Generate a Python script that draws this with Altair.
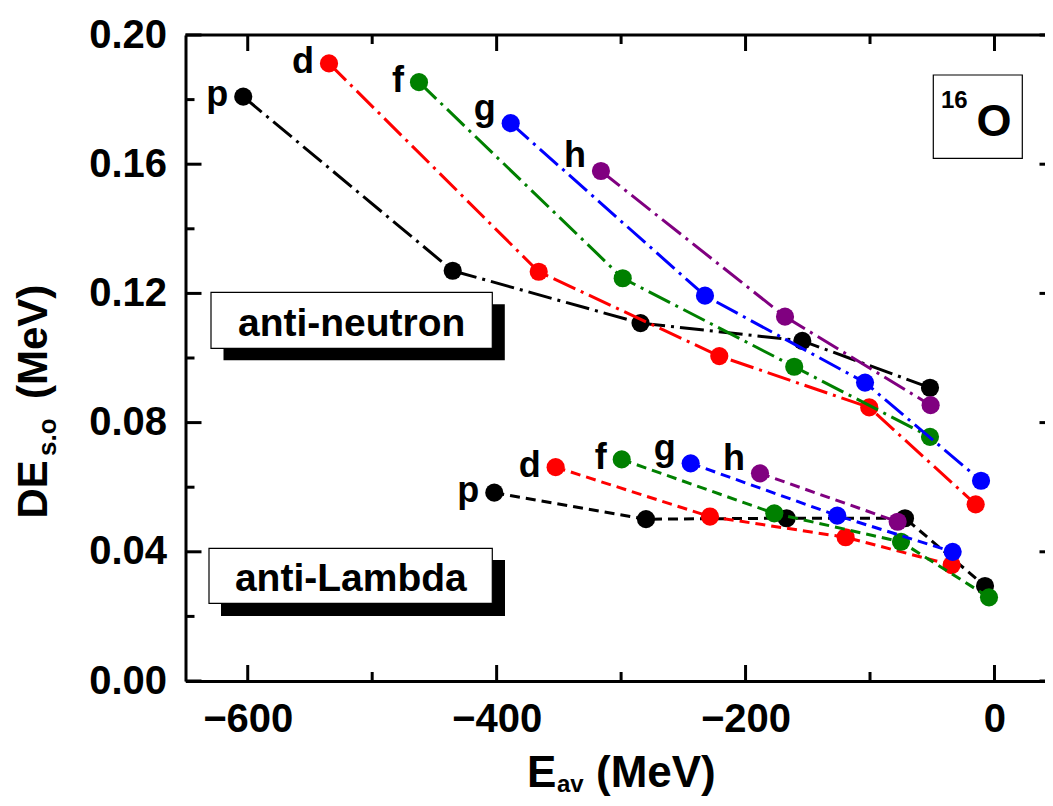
import altair as alt
import pandas as pd

# ---------------- data ----------------
ORBITALS = ["p", "d", "f", "g", "h"]
ORBITAL_COLORS = ["#000000", "#ff0000", "#008000", "#0000ff", "#800080"]

# anti-neutron : E_av (MeV) and DE_s.o (MeV)
NEUTRON_E = {
    "p": [-603.6, -435.3, -284.4, -154.4, -51.8],
    "d": [-534.7, -366.2, -221.1, -100.6, -15.1],
    "f": [-462.4, -298.7, -160.9, -51.8],
    "g": [-388.7, -232.6, -104.0, -10.8],
    "h": [-316.2, -168.3, -51.3],
}
NEUTRON_DE = {
    "p": [0.1809, 0.1270, 0.1108, 0.1053, 0.0908],
    "d": [0.1912, 0.1267, 0.1006, 0.0847, 0.0547],
    "f": [0.1854, 0.1247, 0.0973, 0.0756],
    "g": [0.1727, 0.1193, 0.0924, 0.0620],
    "h": [0.1579, 0.1128, 0.0854],
}

# anti-Lambda
LAMBDA_E = {
    "p": [-401.9, -280.0, -167.0, -71.9, -7.6],
    "d": [-352.6, -228.6, -119.6, -34.4],
    "f": [-299.5, -176.9, -75.1, -4.4],
    "g": [-244.1, -126.3, -33.6],
    "h": [-188.4, -77.8],
}
LAMBDA_DE = {
    "p": [0.0583, 0.0501, 0.0504, 0.0504, 0.0294],
    "d": [0.0662, 0.0509, 0.0445, 0.0359],
    "f": [0.0686, 0.0519, 0.0431, 0.0259],
    "g": [0.0674, 0.0512, 0.0400],
    "h": [0.0643, 0.0493],
}

X_MAJOR = [-600, -400, -200, 0]
X_MINOR = [-500, -300, -100]
Y_MAJOR = [0.00, 0.04, 0.08, 0.12, 0.16, 0.20]
Y_MINOR = [0.02, 0.06, 0.10, 0.14, 0.18]

X_DOMAIN = [-650, 40.6]
Y_DOMAIN = [0.0, 0.20]

# ---------------- styling ----------------
FONT = "Liberation Sans"
W, H = 859.5, 646
MAJOR_LEN, MINOR_LEN = 16, 9
DASH = {"anti-neutron": [24, 6, 3, 6], "anti-Lambda": [10, 6]}

rows = []
for particle, Es, DEs in [("anti-neutron", NEUTRON_E, NEUTRON_DE),
                          ("anti-Lambda", LAMBDA_E, LAMBDA_DE)]:
    for orb in ORBITALS:
        for i, (e, d) in enumerate(zip(Es[orb], DEs[orb])):
            rows.append({"particle": particle, "orbital": orb, "E": e, "DE": d, "idx": i})
df = pd.DataFrame(rows)

xscale = alt.Scale(domain=X_DOMAIN, nice=False, zero=False)
yscale = alt.Scale(domain=Y_DOMAIN, nice=False, zero=False)

common_axis = dict(ticks=False, grid=False, domain=True, domainColor="black",
                   domainWidth=3, labelFont=FONT, labelFontSize=40,
                   labelFontWeight="bold", labelColor="black", labelFlush=False,
                   labelOverlap=False, title=None)
xaxis = alt.Axis(values=X_MAJOR, format="d", labelPadding=18, **common_axis)
yaxis = alt.Axis(values=Y_MAJOR, format=".2f", labelPadding=19, **common_axis)

X = lambda f: alt.X(f, scale=xscale, axis=xaxis)
Y = lambda f: alt.Y(f, scale=yscale, axis=yaxis)

layers = []

# ---- inward ticks (drawn through the scales) ----
xmaj = pd.DataFrame({"v": X_MAJOR})
xmin = pd.DataFrame({"v": X_MINOR})
ymaj = pd.DataFrame({"v": Y_MAJOR})
ymin = pd.DataFrame({"v": Y_MINOR})
tick = dict(color="black", strokeWidth=3)
for d_, L in [(xmaj, MAJOR_LEN), (xmin, MINOR_LEN)]:
    layers.append(alt.Chart(d_).mark_rule(**tick).encode(
        x=X("v:Q"), y=alt.value(H), y2=alt.value(H - L)))
    layers.append(alt.Chart(d_).mark_rule(**tick).encode(
        x=X("v:Q"), y=alt.value(0), y2=alt.value(L)))
for d_, L in [(ymaj, MAJOR_LEN), (ymin, MINOR_LEN)]:
    layers.append(alt.Chart(d_).mark_rule(**tick).encode(
        y=Y("v:Q"), x=alt.value(0), x2=alt.value(L)))
    layers.append(alt.Chart(d_).mark_rule(**tick).encode(
        y=Y("v:Q"), x=alt.value(W + 10.5), x2=alt.value(W + 10.5 - L)))

one = pd.DataFrame({"a": [0]})
# top frame line
layers.append(alt.Chart(one).mark_rule(color="black", strokeWidth=3).encode(
    x=alt.value(0), x2=alt.value(W), y=alt.value(0)))

# ---- data: lines + points, series by series ----
for orb, col in zip(ORBITALS, ORBITAL_COLORS):
    for particle in ["anti-neutron", "anti-Lambda"]:
        sub = df[(df.orbital == orb) & (df.particle == particle)]
        layers.append(alt.Chart(sub).mark_line(
            color=col, strokeWidth=3, strokeDash=DASH[particle]).encode(
            x=X("E:Q"), y=Y("DE:Q"), order="idx:Q"))
        layers.append(alt.Chart(sub).mark_circle(
            color=col, size=330, opacity=1).encode(x=X("E:Q"), y=Y("DE:Q")))

# ---- orbital labels next to the first point of each series ----
first = df[df.idx == 0]
lab = dict(align="right", baseline="alphabetic", font=FONT, fontSize=36,
           fontWeight="bold", color="black", dx=-15)
layers.append(alt.Chart(first[first.orbital.isin(["p", "d", "f"])]).mark_text(
    dy=9.4, **lab).encode(x=X("E:Q"), y=Y("DE:Q"), text="orbital:N"))
layers.append(alt.Chart(first[first.orbital.isin(["g", "h"])]).mark_text(
    dy=-3.6, **lab).encode(x=X("E:Q"), y=Y("DE:Q"), text="orbital:N"))

# ---- annotation boxes ----
def box(x0, y0, x1, y1, fill, stroke=None):
    kw = dict(fill=fill)
    if stroke:
        kw.update(stroke=stroke, strokeWidth=1.2)
    return alt.Chart(one).mark_rect(**kw).encode(
        x=alt.value(x0), x2=alt.value(x1), y=alt.value(y0), y2=alt.value(y1))

def label(txt, x, y, size, align="center", baseline="middle", angle=0):
    kw = dict(text=txt, font=FONT, fontSize=size, fontWeight="bold",
              color="black", align=align, baseline=baseline)
    if angle:
        kw["angle"] = angle
    return alt.Chart(one).mark_text(**kw).encode(x=alt.value(x), y=alt.value(y))

layers += [
    box(38, 269.3, 319.3, 325.3, "black"),
    box(25.5, 257.3, 306.8, 313.3, "white", "black"),
    label("anti-neutron", 166.2, 288.6, 39),
    box(35.5, 525, 319.5, 581, "black"),
    box(23.5, 513.3, 306.8, 568.3, "white", "black"),
    label("anti-Lambda", 165.3, 544.3, 39),
    box(747.8, 40, 836.8, 123.3, "white", "black"),
    label("16", 755.5, 73.3, 24, align="left", baseline="alphabetic"),
    label("O", 791, 100.5, 45, align="left", baseline="alphabetic"),
]

# ---- axis titles with subscripts ----
layers += [
    label("E", 341.5, 752, 44, align="left", baseline="alphabetic"),
    label("av", 371.5, 757, 24, align="left", baseline="alphabetic"),
    label("(MeV)", 410.5, 752, 44, align="left", baseline="alphabetic"),
    label("DE", -138.5, 483.5, 42, align="left", baseline="alphabetic", angle=270),
    label("s.o", -129.5, 421, 26, align="left", baseline="alphabetic", angle=270),
    label("(MeV)", -138.5, 364, 42, align="left", baseline="alphabetic", angle=270),
]

chart = alt.layer(*layers).properties(
    width=W, height=H,
    autosize=alt.AutoSizeParams(type="none"),
    padding={"left": 177.5, "top": 27, "right": 0, "bottom": 117},
).configure_view(stroke=None).configure(font=FONT)

chart.save("out.html", embed_options={"renderer": "svg", "actions": False})
